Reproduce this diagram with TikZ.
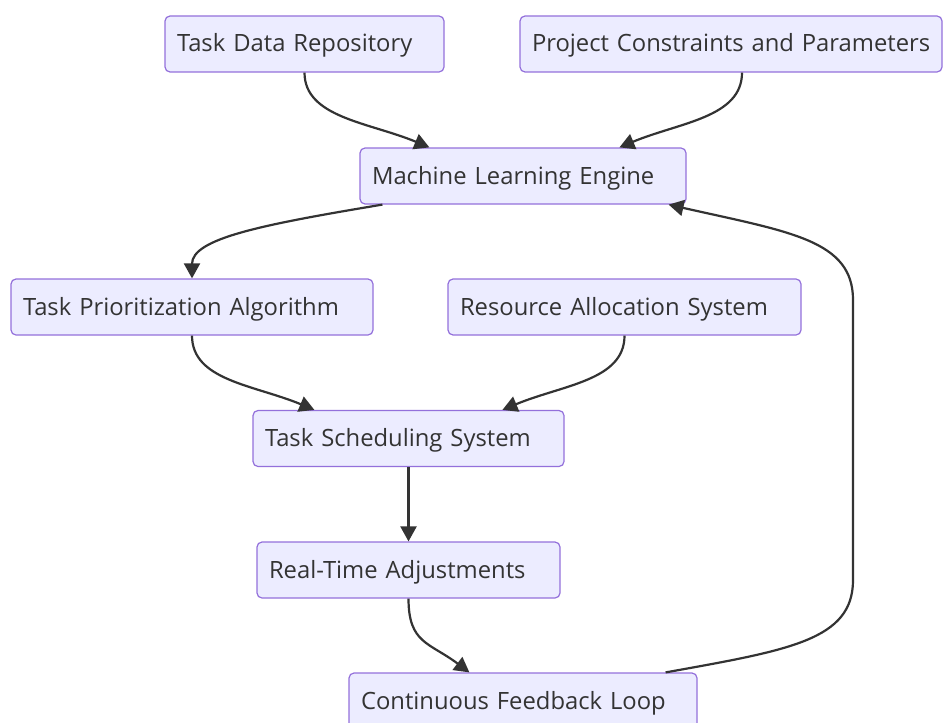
\documentclass[tikz,border=0pt]{standalone}
\usepackage{fontspec}
\setmainfont{Open Sans}
\usetikzlibrary{arrows.meta}
\definecolor{nodefill}{HTML}{ECECFF}
\definecolor{nodeline}{HTML}{9370DB}
\definecolor{inktext}{HTML}{333333}
\tikzset{
  box/.style={draw=nodeline, fill=nodefill, line width=0.6pt, rounded corners=2.5pt,
    inner xsep=6pt, inner ysep=0pt, minimum height=28pt, align=left,
    text height=10pt, text depth=2pt,
    text=inktext, font=\fontsize{11.9}{14}\selectfont},
  flow/.style={draw=inktext, line width=1.1pt, -{Triangle[length=7.5pt,width=8pt]}}
}
\begin{document}
\begin{tikzpicture}[x=0.5pt,y=-0.5pt]
  \useasboundingbox (0,0) rectangle (951,722);
  % nodes
  \node[box, text width=127.5pt] (tdr) at (304.5,44) {Task Data Repository};
  \node[box, text width=199pt] (pcp) at (731,44) {\mbox{Project Constraints and Parameters}};
  \node[box, text width=151pt] (mle) at (523,176) {Machine Learning Engine};
  \node[box, text width=169pt] (tpa) at (192,307) {Task Prioritization Algorithm};
  \node[box, text width=164.5pt] (ras) at (624.5,307) {Resource Allocation System};
  \node[box, text width=143.5pt] (tss) at (408.5,438.5) {Task Scheduling System};
  \node[box, text width=139.5pt] (rta) at (408.5,570) {Real-Time Adjustments};
  \node[box, text width=162pt] (cfl) at (523,701) {Continuous Feedback Loop};
  % connectors
  \draw[flow] (tdr.south) .. controls +(0,45) and +(-60,-25) .. ([xshift=35pt]mle.north west);
  \draw[flow] ([xshift=5.5pt]pcp.south) .. controls +(0,45) and +(60,-25) .. ([xshift=130pt]mle.north west);
  \draw[flow] ([xshift=11.5pt]mle.south west) .. controls +(-120,20) and +(0,-40) .. (tpa.north);
  \draw[flow] (tpa.south) .. controls +(0,45) and +(-60,-25) .. ([xshift=31pt]tss.north west);
  \draw[flow] (ras.south) .. controls +(0,45) and +(60,-25) .. ([xshift=125pt]tss.north west);
  \draw[flow] (tss.south) -- (rta.north);
  \draw[flow] (rta.south) .. controls +(0,45) and +(-40,-30) .. ([xshift=60.5pt]cfl.north west);
  \draw[flow] ([xshift=-16pt]cfl.north east) .. controls (790,650) and (853,640) .. (853,580)
    -- (853,300) .. controls (853,240) and (790,232) .. ([xshift=-9pt]mle.south east);
\end{tikzpicture}
\end{document}
